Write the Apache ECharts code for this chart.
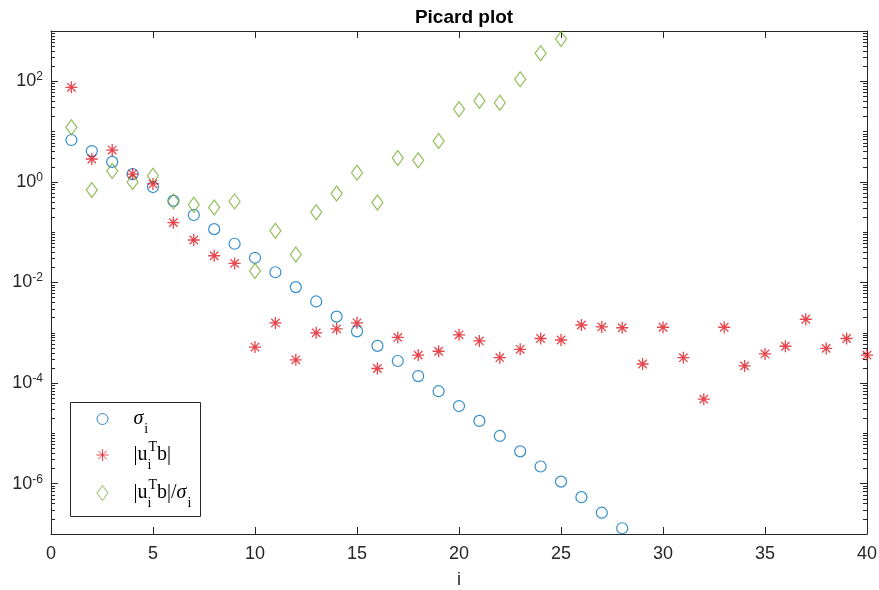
<!DOCTYPE html>
<html><head><meta charset="utf-8">
<script src="https://cdn.jsdelivr.net/npm/echarts@6/dist/echarts.min.js"></script>
<style>html,body{margin:0;padding:0;background:#fff}#c{width:879px;height:590px}</style>
</head><body><div id="c"></div>
<script>
// ---- data ----
const sigma = [6.8, 4.1, 2.5, 1.43, 0.79, 0.42, 0.22, 0.115, 0.059, 0.031,
  0.016, 0.0081, 0.0042, 0.0021, 0.00107, 5.5e-4, 2.75e-4, 1.38e-4, 6.9e-5, 3.5e-5,
  1.77e-5, 8.9e-6, 4.4e-6, 2.2e-6, 1.1e-6, 5.4e-7, 2.65e-7, 1.3e-7];
const utb = [76, 2.85, 4.3, 1.43, 0.91, 0.155, 0.07, 0.034, 0.024, 5.2e-4,
  1.57e-3, 2.9e-4, 1.0e-3, 1.2e-3, 1.58e-3, 1.95e-4, 8.1e-4, 3.6e-4, 4.3e-4, 9.1e-4,
  6.9e-4, 3.2e-4, 4.7e-4, 7.7e-4, 7.2e-4, 1.43e-3, 1.31e-3, 1.26e-3, 2.4e-4, 1.29e-3,
  3.2e-4, 4.8e-5, 1.29e-3, 2.2e-4, 3.8e-4, 5.4e-4, 1.86e-3, 4.9e-4, 7.7e-4, 3.6e-4];
const ratio = [12.2, 0.69, 1.65, 1.0, 1.33, 0.41, 0.35, 0.31, 0.41, 0.017,
  0.107, 0.036, 0.25, 0.59, 1.52, 0.39, 3.0, 2.7, 6.5, 27.7,
  41, 37.6, 110, 360, 690];
const xTicks = [0, 5, 10, 15, 20, 25, 30, 35, 40];
const yLabelExponents = [-6, -4, -2, 0, 2];
const seriesNames = ['sigma', 'utb', 'ratio'];

const toPts = arr => arr.map((v, i) => [i + 1, v]);
const majorY = yLabelExponents.map(e => Math.pow(10, e));
const minorY = [];
for (let k = -7; k <= 2; k++) {
  for (let m = 1; m <= 9; m++) {
    if (m === 1 && yLabelExponents.indexOf(k) >= 0) continue;
    if (m === 1 && k === -7) continue;
    minorY.push(parseFloat((m * Math.pow(10, k)).toPrecision(3)));
  }
}

const GRID = {left: 51, right: 12, top: 31, bottom: 56, outerBoundsMode: 'none', containLabel: false};
const AX = '#262626';
const FONT = 'Liberation Sans';
const SERIF = 'Liberation Serif';
const starPath = 'path://M0,-6L0,6M-6,0L6,0M-4.2,-4.2L4.2,4.2M-4.2,4.2L4.2,-4.2';

const logAxisBase = {
  type: 'log', logBase: 10, min: 1e-7, max: 1e3,
  splitLine: {show: false}, minorTick: {show: false}, minorSplitLine: {show: false}
};

const legendRich = {
  n: {fontFamily: SERIF, fontSize: 20, color: '#000', lineHeight: 24},
  it: {fontFamily: SERIF, fontSize: 20, fontStyle: 'italic', color: '#000', lineHeight: 24},
  sub: {fontFamily: SERIF, fontSize: 14, color: '#000', lineHeight: 18, padding: [20, 0, 0, 1]},
  sub2: {fontFamily: SERIF, fontSize: 14, color: '#000', lineHeight: 18, padding: [20, 0, 0, 0], width: 1},
  sup: {fontFamily: SERIF, fontSize: 14, color: '#000', lineHeight: 18, padding: [0, 0, 16, 0]}
};
const legendText = {
  sigma: '{it|σ}{sub|i}',
  utb: '{n||u}{sub2|i}{sup|T}{n|b|}',
  ratio: '{n||u}{sub2|i}{sup|T}{n|b|/}{it|σ}{sub|i}'
};
const legendTops = [421, 457, 495];
const legendIconSize = {sigma: [11, 11], utb: [12, 12], ratio: [11, 15]};
const legendSeriesStyle = {
  sigma: {color: 'rgba(0,0,0,0)', borderColor: '#0072BD', borderWidth: 1},
  utb: {color: 'rgba(0,0,0,0)', borderColor: '#E01820', borderWidth: 1},
  ratio: {color: 'rgba(0,0,0,0)', borderColor: '#77AC30', borderWidth: 1}
};
const mkLegend = (name, idx) => ({
  data: [name], left: 102 - legendIconSize[name][0] / 2, top: legendTops[idx] - 19, orient: 'vertical',
  itemWidth: legendIconSize[name][0], itemHeight: legendIconSize[name][1], padding: 0, selectedMode: false,
  itemStyle: legendSeriesStyle[name],
  formatter: n => legendText[n],
  textStyle: {padding: [0, 0, 0, 26 - legendIconSize[name][0] / 2], rich: legendRich}
});

const option = {
  animation: false,
  backgroundColor: '#fff',
  title: {
    text: 'Picard plot', left: 459, top: 3, textAlign: 'center',
    textStyle: {fontFamily: FONT, fontSize: 19, fontWeight: 'bold', color: '#000'}
  },
  grid: [Object.assign({}, GRID), Object.assign({}, GRID)],
  xAxis: [
    {type: 'value', gridIndex: 0, min: 0, max: 40, interval: 5, position: 'bottom',
      name: 'i', nameLocation: 'middle', nameGap: 37,
      nameTextStyle: {fontFamily: FONT, fontSize: 18, color: AX},
      axisLine: {show: true, onZero: false, lineStyle: {color: AX, width: 1}},
      axisTick: {show: true, inside: true, length: 7, lineStyle: {color: AX}, customValues: xTicks},
      axisLabel: {show: true, margin: 11, fontFamily: FONT, fontSize: 18, color: AX, customValues: xTicks},
      splitLine: {show: false}},
    {type: 'value', gridIndex: 0, min: 0, max: 40, interval: 5, position: 'top',
      axisLine: {show: true, onZero: false, lineStyle: {color: AX, width: 1}},
      axisTick: {show: true, inside: true, length: 7, lineStyle: {color: AX}, customValues: xTicks},
      axisLabel: {show: false}, splitLine: {show: false}},
    {type: 'value', gridIndex: 1, min: 0, max: 40, show: false}
  ],
  yAxis: [
    Object.assign({}, logAxisBase, {gridIndex: 0, position: 'left',
      axisLine: {show: true, onZero: false, lineStyle: {color: AX, width: 1}},
      axisTick: {show: true, inside: true, length: 7, lineStyle: {color: AX}, customValues: majorY},
      axisLabel: {show: true, margin: 8, customValues: majorY,
        formatter: v => '{b|10}{s|' + Math.round(Math.log10(v)) + '}',
        rich: {
          b: {fontFamily: FONT, fontSize: 18, color: AX},
          s: {fontFamily: FONT, fontSize: 12, color: AX, padding: [0, 0, 9, 0]}
        }}}),
    Object.assign({}, logAxisBase, {gridIndex: 0, position: 'right',
      axisLine: {show: true, onZero: false, lineStyle: {color: AX, width: 1}},
      axisTick: {show: true, inside: true, length: 7, lineStyle: {color: AX}, customValues: majorY},
      axisLabel: {show: false}}),
    Object.assign({}, logAxisBase, {gridIndex: 1, position: 'left',
      axisLine: {show: false},
      axisTick: {show: true, inside: true, length: 4, lineStyle: {color: AX}, customValues: minorY},
      axisLabel: {show: false}}),
    Object.assign({}, logAxisBase, {gridIndex: 1, position: 'right',
      axisLine: {show: false},
      axisTick: {show: true, inside: true, length: 4, lineStyle: {color: AX}, customValues: minorY},
      axisLabel: {show: false}})
  ],
  legend: seriesNames.map(mkLegend),
  graphic: [{
    type: 'rect', z: 1, silent: true,
    shape: {x: 70.5, y: 402.5, width: 130, height: 114},
    style: {fill: '#fff', stroke: AX, lineWidth: 1}
  }],
  series: [
    {name: 'sigma', type: 'scatter', xAxisIndex: 0, yAxisIndex: 0, data: toPts(sigma),
      symbol: 'circle', symbolSize: 11, z: 3,
      itemStyle: {color: 'rgba(0,0,0,0)', borderColor: '#0072BD', borderWidth: 1.2}},
    {name: 'utb', type: 'scatter', xAxisIndex: 0, yAxisIndex: 0, data: toPts(utb),
      symbol: starPath, symbolSize: 12, z: 4,
      itemStyle: {color: 'rgba(0,0,0,0)', borderColor: '#E01820', borderWidth: 1.3}},
    {name: 'ratio', type: 'scatter', xAxisIndex: 0, yAxisIndex: 0, data: toPts(ratio),
      symbol: 'diamond', symbolSize: [11, 15], z: 3,
      itemStyle: {color: 'rgba(0,0,0,0)', borderColor: '#77AC30', borderWidth: 1.2}}
  ]
};
const chart = echarts.init(document.getElementById('c'), null, {renderer: 'canvas'});
chart.setOption(option);
</script></body></html>
